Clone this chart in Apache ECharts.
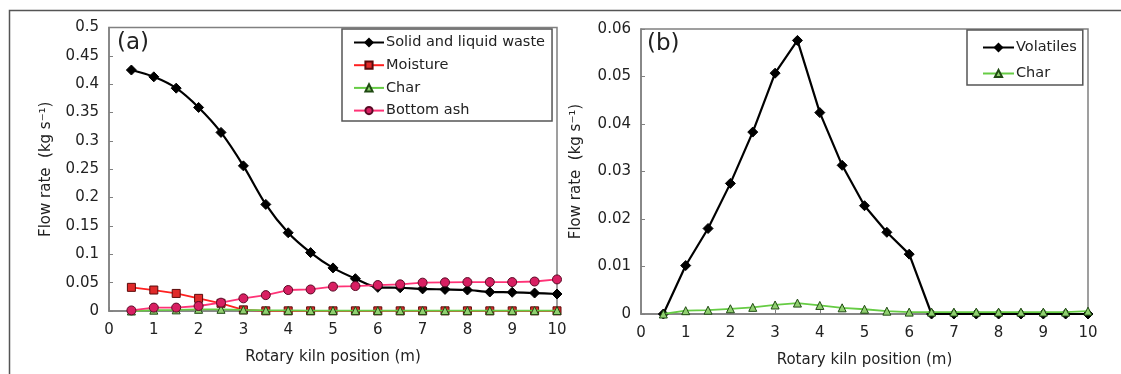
<!DOCTYPE html>
<html lang="en">
<head>
    <meta charset="UTF-8">
    <title>Rotary kiln flow rates</title>
    <script src="https://cdn.jsdelivr.net/npm/echarts@6/dist/echarts.min.js"></script>
    <style>
        body { margin: 0; background: #fff; }
        #chart { width: 1121px; height: 374px; }
    </style>
</head>
<body>
    <div id="chart"></div>
    <script>
        // kiln positions (m)
        const positions = [0.5, 1, 1.5, 2, 2.5, 3, 3.5, 4, 4.5, 5, 5.5, 6, 6.5, 7, 7.5, 8, 8.5, 9, 9.5, 10];

        // panel (a)
        const solidLiquid = [0.425, 0.413, 0.393, 0.359, 0.315, 0.256, 0.188, 0.138, 0.103, 0.076, 0.057, 0.0417, 0.041, 0.039, 0.0381, 0.037, 0.0335, 0.033, 0.0317, 0.030];
        const moisture = [0.0417, 0.037, 0.031, 0.0223, 0.0136, 0.002, 0.0003, 0.0003, 0.0003, 0.0003, 0.0003, 0.0003, 0.0003, 0.0003, 0.0003, 0.0003, 0.0003, 0.0003, 0.0003, 0.0003];
        const charA = [0, 0.0015, 0.002, 0.003, 0.003, 0.002, 0.0012, 0.001, 0.0008, 0.0008, 0.0007, 0.0007, 0.0007, 0.0007, 0.0007, 0.0007, 0.0007, 0.0007, 0.0007, 0.0008];
        const bottomAsh = [0.001, 0.006, 0.006, 0.0088, 0.0147, 0.0223, 0.028, 0.037, 0.038, 0.043, 0.044, 0.0458, 0.047, 0.050, 0.0505, 0.051, 0.051, 0.051, 0.052, 0.0557];

        // panel (b)
        const volatiles = [0, 0.0102, 0.018, 0.0275, 0.0383, 0.0507, 0.0576, 0.0424, 0.0313, 0.0228, 0.0172, 0.0126, 0, 0, 0, 0, 0, 0, 0, 0];
        const charB = [0, 0.0007, 0.0008, 0.0011, 0.0014, 0.0019, 0.0023, 0.0018, 0.0013, 0.001, 0.0006, 0.0004, 0.0004, 0.0004, 0.0004, 0.0004, 0.0004, 0.0004, 0.0004, 0.0006];

        const xTicks = [0, 10, 1];
        const yTicksA = [0, 0.5, 0.05];
        const yTicksB = [0, 0.06, 0.01];

        const font = 'DejaVu Sans';
        const frame = '#808080';

        const pair = vals => positions.map((x, i) => [x, vals[i]]);

        function xAxisFor(idx) {
            return {
                type: 'value', gridIndex: idx,
                min: xTicks[0], max: xTicks[1], interval: xTicks[2],
                name: 'Rotary kiln position (m)', nameLocation: 'middle', nameGap: 39,
                nameTextStyle: { fontFamily: font, fontSize: 15, color: '#222' },
                axisLine: { onZero: false, lineStyle: { color: frame, width: 1.5 } },
                axisTick: { inside: true, length: 4, lineStyle: { color: frame } },
                axisLabel: { fontFamily: font, fontSize: 15, color: '#222', margin: 12 },
                splitLine: { show: false }
            };
        }

        function yAxisFor(idx, t, gap) {
            return {
                type: 'value', gridIndex: idx,
                min: t[0], max: t[1], interval: t[2],
                name: 'Flow rate  (kg s\u207B\u00B9)', nameLocation: 'middle', nameGap: gap,
                nameTextStyle: { fontFamily: font, fontSize: 15, color: '#222' },
                axisLine: { show: true, lineStyle: { color: frame, width: 1.5 } },
                axisTick: { inside: true, length: 4, lineStyle: { color: frame } },
                axisLabel: { fontFamily: font, fontSize: 15, color: '#222', margin: 10 },
                splitLine: { show: false }
            };
        }

        function line(name, idx, vals, opts) {
            return {
                name: name, type: 'line', xAxisIndex: idx, yAxisIndex: idx,
                data: pair(vals),
                symbol: opts.symbol, symbolSize: opts.size,
                smooth: opts.smooth || false,
                lineStyle: { color: opts.line, width: opts.width || 1.8 },
                itemStyle: { color: opts.fill, borderColor: opts.border, borderWidth: 1 },
                z: opts.z || 2,
                animation: false
            };
        }

        const black = { symbol: 'diamond', size: 10, line: '#000', fill: '#000', border: '#000', width: 2.2 };
        const red = { symbol: 'rect', size: 8, line: '#ff2020', fill: '#e02a2a', border: '#5a0a0a' };
        const green = { symbol: 'triangle', size: 8, line: '#66cc44', fill: '#90d070', border: '#1f4a12' };
        const pink = { symbol: 'circle', size: 9, line: '#ff3377', fill: '#d81f62', border: '#5a0a25' };

        const chart = echarts.init(document.getElementById('chart'));
        chart.setOption({
            backgroundColor: '#fff',
            animation: false,
            graphic: [
                { type: 'rect', left: 7, top: 8, shape: { width: 1200, height: 400 }, style: { fill: 'none', stroke: '#555', lineWidth: 1.5 }, z: -1 },
                { type: 'text', left: 117, top: 32, style: { text: '(a)', font: '23px "DejaVu Sans"', fill: '#222' } },
                { type: 'text', left: 647, top: 33, style: { text: '(b)', font: '23px "DejaVu Sans"', fill: '#222' } }
            ],
            grid: [
                { left: 109, top: 27.5, width: 448, height: 283.5, show: true, borderColor: frame, borderWidth: 1.5 },
                { left: 641, top: 29, width: 447, height: 285, show: true, borderColor: frame, borderWidth: 1.5 }
            ],
            legend: [
                {
                    data: ['Solid and liquid waste', 'Moisture', 'Char', 'Bottom ash'],
                    left: 342, top: 29, orient: 'vertical',
                    itemWidth: 30, itemHeight: 9, itemGap: 7.7,
                    padding: [6, 7, 3, 11],
                    borderColor: '#555', borderWidth: 1.5,
                    textStyle: { fontFamily: font, fontSize: 14.5, color: '#222', padding: [0, 0, 0, -3] }
                },
                {
                    data: ['Volatiles', 'Char '],
                    left: 967, top: 30, orient: 'vertical',
                    itemWidth: 31, itemHeight: 9, itemGap: 11,
                    padding: [10, 6, 4, 15],
                    borderColor: '#555', borderWidth: 1.5,
                    textStyle: { fontFamily: font, fontSize: 14.5, color: '#222', padding: [0, 0, 0, -3] }
                }
            ],
            xAxis: [xAxisFor(0), xAxisFor(1)],
            yAxis: [yAxisFor(0, yTicksA, 55), yAxisFor(1, yTicksB, 57)],
            series: [
                line('Solid and liquid waste', 0, solidLiquid, Object.assign({ smooth: 0.3, z: 3 }, black)),
                line('Moisture', 0, moisture, Object.assign({ z: 3 }, red)),
                line('Char', 0, charA, Object.assign({ z: 4 }, green)),
                line('Bottom ash', 0, bottomAsh, Object.assign({ z: 5 }, pink)),
                line('Volatiles', 1, volatiles, black),
                line('Char ', 1, charB, Object.assign({ z: 3 }, green))
            ]
        });
    </script>
</body>
</html>
